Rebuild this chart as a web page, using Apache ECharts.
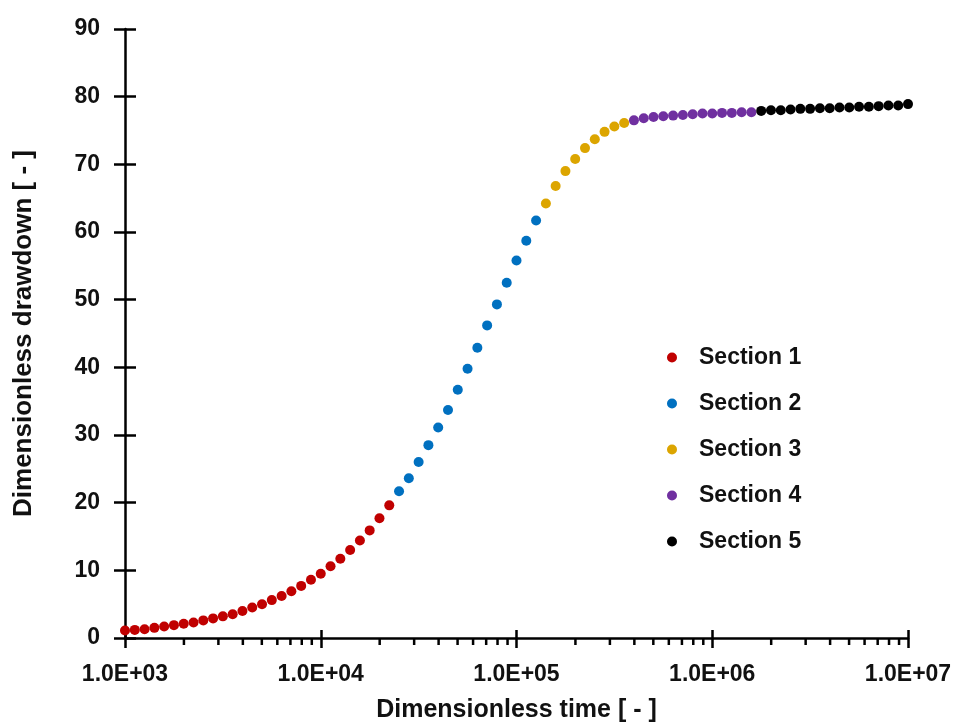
<!DOCTYPE html>
<html>
<head>
<meta charset="utf-8">
<script src="https://cdn.jsdelivr.net/npm/echarts@6/dist/echarts.min.js"></script>
<style>html,body{margin:0;padding:0;background:#fff;}#c{width:956px;height:722px;}</style>
</head>
<body>
<div id="c"></div>
<script>
// ---- data ----
const sectionNames = ['Section 1', 'Section 2', 'Section 3', 'Section 4', 'Section 5'];
const sectionColors = ['#C00000', '#0070C0', '#DCA500', '#7030A0', '#000000'];

const time1 = [1000, 1122, 1259, 1413, 1585, 1778, 1995, 2239, 2512, 2818, 3162, 3548, 3981, 4467, 5012, 5623, 6310, 7079, 7943, 8913, 10000, 11220, 12590, 14130, 15850, 17780, 19950, 22390];
const drawdown1 = [1.1, 1.2, 1.3, 1.5, 1.7, 1.9, 2.1, 2.3, 2.6, 2.9, 3.2, 3.5, 4.0, 4.5, 5.0, 5.6, 6.2, 6.9, 7.7, 8.6, 9.5, 10.6, 11.7, 13.0, 14.4, 15.9, 17.7, 19.6];

const time2 = [25120, 28180, 31620, 35480, 39810, 44670, 50120, 56230, 63100, 70790, 79430, 89130, 100000, 112200, 125900];
const drawdown2 = [21.7, 23.6, 26.0, 28.5, 31.1, 33.7, 36.7, 39.8, 42.9, 46.2, 49.3, 52.5, 55.8, 58.7, 61.7];

const time3 = [141300, 158500, 177800, 199500, 223900, 251200, 281800, 316200, 354800];
const drawdown3 = [64.2, 66.8, 69.0, 70.8, 72.4, 73.7, 74.8, 75.6, 76.1];

const time4 = [398100, 446700, 501200, 562300, 631000, 707900, 794300, 891300, 1000000, 1122000, 1259000, 1413000, 1585000];
const drawdown4 = [76.5, 76.8, 77.0, 77.1, 77.2, 77.3, 77.4, 77.5, 77.5, 77.6, 77.6, 77.7, 77.7];

const time5 = [1778000, 1995000, 2239000, 2512000, 2818000, 3162000, 3548000, 3981000, 4467000, 5012000, 5623000, 6310000, 7079000, 7943000, 8913000, 10000000];
const drawdown5 = [77.9, 78.0, 78.0, 78.1, 78.2, 78.2, 78.3, 78.3, 78.4, 78.4, 78.5, 78.5, 78.6, 78.7, 78.7, 78.9];

const xTickValues = [1000, 10000, 100000, 1000000, 10000000];
const xTickLabels = ['1.0E+03', '1.0E+04', '1.0E+05', '1.0E+06', '1.0E+07'];
const xMinorTicks = [2000, 3000, 4000, 5000, 6000, 7000, 8000, 9000,
  20000, 30000, 40000, 50000, 60000, 70000, 80000, 90000,
  200000, 300000, 400000, 500000, 600000, 700000, 800000, 900000,
  2000000, 3000000, 4000000, 5000000, 6000000, 7000000, 8000000, 9000000];
const yTickLabels = ['0', '10', '20', '30', '40', '50', '60', '70', '80', '90'];

const xTitle = 'Dimensionless time [ - ]';
const yTitle = 'Dimensionless drawdown [ - ]';

// ---- chart ----
const FONT = "'Liberation Sans', Arial, Helvetica, sans-serif";
const times = [time1, time2, time3, time4, time5];
const vals = [drawdown1, drawdown2, drawdown3, drawdown4, drawdown5];

const scatterSeries = sectionNames.map((name, k) => ({
  name: name,
  type: 'scatter',
  symbol: 'circle',
  symbolSize: 10,
  itemStyle: { color: sectionColors[k], opacity: 1 },
  data: times[k].map((t, i) => [t, vals[k][i]]),
  z: 3
}));

const xLabelFmt = v => {
  const idx = xTickValues.findIndex(t => Math.abs(Math.log10(t) - Math.log10(v)) < 1e-6);
  return idx >= 0 ? xTickLabels[idx] : '';
};
const yLabelFmt = v => {
  const idx = Math.round(v / 10);
  return yTickLabels[idx] !== undefined ? yTickLabels[idx] : '';
};

const axisCommonX = {
  type: 'log', logBase: 10, min: 1000, max: 10000000,
  splitLine: { show: false }
};
const axisCommonY = {
  type: 'value', min: 0, max: 90, interval: 10,
  splitLine: { show: false }
};

const chart = echarts.init(document.getElementById('c'), null, { renderer: 'canvas' });
chart.setOption({
  backgroundColor: '#ffffff',
  animation: false,
  grid: { left: 125, right: 48, top: 29, bottom: 84, containLabel: false, outerBoundsMode: 'none' },
  legend: {
    data: sectionNames,
    orient: 'vertical',
    left: 662,
    top: 341,
    itemWidth: 44,
    itemHeight: 10,
    itemGap: 23,
    icon: 'circle',
    textStyle: { fontFamily: FONT, fontSize: 23, fontWeight: 'bold', color: '#111' }
  },
  xAxis: [
    Object.assign({}, axisCommonX, {
      position: 'bottom',
      name: xTitle,
      nameLocation: 'middle',
      nameGap: 60,
      nameTextStyle: { fontFamily: FONT, fontSize: 25, fontWeight: 'bold', color: '#111' },
      axisLine: { show: true, lineStyle: { color: '#000', width: 2.5 } },
      axisTick: { show: true, inside: false, length: 10, lineStyle: { color: '#000', width: 2.5 } },
      axisLabel: { show: true, margin: 25, formatter: xLabelFmt, fontFamily: FONT, fontSize: 23, fontWeight: 'bold', color: '#111' }
    }),
    Object.assign({}, axisCommonX, {
      position: 'bottom',
      axisLine: { show: false },
      axisTick: { show: true, inside: true, length: 8, lineStyle: { color: '#000', width: 2.5 } },
      axisLabel: { show: false }
    })
  ],
  yAxis: [
    Object.assign({}, axisCommonY, {
      position: 'left',
      name: yTitle,
      nameLocation: 'middle',
      nameGap: 88,
      nameRotate: 90,
      nameTextStyle: { fontFamily: FONT, fontSize: 26, fontWeight: 'bold', color: '#111' },
      axisLine: { show: true, lineStyle: { color: '#000', width: 2.5 } },
      axisTick: { show: true, inside: false, length: 11, lineStyle: { color: '#000', width: 2.5 } },
      axisLabel: { show: true, margin: 25, formatter: yLabelFmt, fontFamily: FONT, fontSize: 23, fontWeight: 'bold', color: '#111' }
    }),
    Object.assign({}, axisCommonY, {
      position: 'left',
      axisLine: { show: false },
      axisTick: { show: true, inside: true, length: 11, lineStyle: { color: '#000', width: 2.5 } },
      axisLabel: { show: false }
    })
  ],
  series: scatterSeries.concat([{
    name: 'minorTicks',
    type: 'custom',
    silent: true,
    clip: false,
    z: 5,
    data: xMinorTicks.map(v => [v, 0]),
    encode: { x: 0, y: 1 },
    renderItem: (params, api) => {
      const p = api.coord([api.value(0), 0]);
      return {
        type: 'line',
        shape: { x1: p[0], y1: p[1], x2: p[0], y2: p[1] + 7 },
        style: { stroke: '#000', lineWidth: 2.5 }
      };
    }
  }])
});
</script>
</body>
</html>
